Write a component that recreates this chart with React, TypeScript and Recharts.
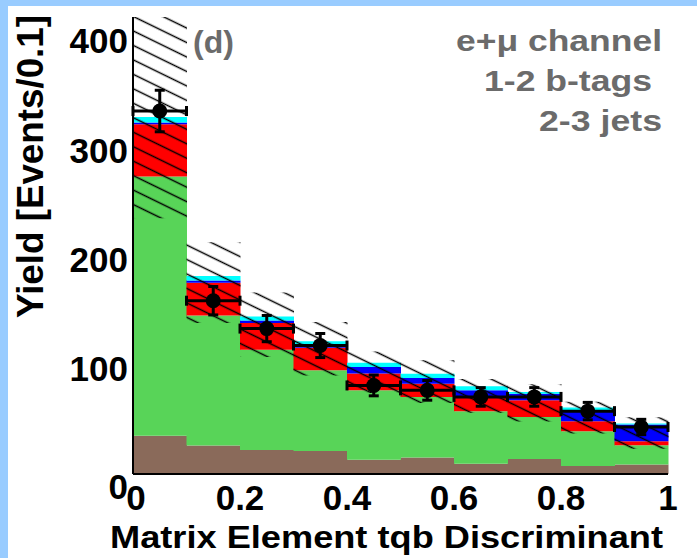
import { ComposedChart, Bar, XAxis, YAxis, Scatter, ErrorBar, Label } from 'recharts';

// bins of the tqb discriminant (width 0.1)
const bins = ['0.05', '0.15', '0.25', '0.35', '0.45', '0.55', '0.65', '0.75', '0.85', '0.95'];
const binCenters = [0.05, 0.15, 0.25, 0.35, 0.45, 0.55, 0.65, 0.75, 0.85, 0.95];
const binHalfWidth = 0.05;

// stacked predictions, bottom to top
const multijet = [35, 26, 22, 21, 13, 15, 9.4, 13.7, 7.3, 8.8];
const wjets = [237, 119, 91.6, 74, 63.5, 55.5, 48, 38.5, 31.9, 17.6];
const ttbar = [48, 30, 24.4, 20.4, 15.5, 12, 13.6, 15.2, 9.1, 3.6];
const tqb = [1.5, 2, 2.3, 2, 5.8, 5.2, 5.5, 6.1, 10, 15.2];
const tb = [5, 4, 3.7, 4, 4, 3.9, 3.7, 1.5, 2.5, 1];

// hatched uncertainty band on the total
const bandLow = [234, 138, 107, 90, 74, 65, 56, 48, 37, 23];
const bandHigh = [418, 212, 166, 139, 112, 104, 87, 82, 66, 52];

// observed data
const dataYield = [332, 158.5, 133, 117.5, 81, 76.5, 70.5, 70.5, 57.5, 43];
const dataErr = [19, 13, 12, 11, 9.5, 9, 8.5, 8.5, 8, 7];

const yTicks = [0, 50, 100, 150, 200, 250, 300, 350, 400];
const xTicks = [0, 0.05, 0.1, 0.15, 0.2, 0.25, 0.3, 0.35, 0.4, 0.45, 0.5, 0.55, 0.6, 0.65, 0.7, 0.75, 0.8, 0.85, 0.9, 0.95, 1];
const yMax = 418;

const rows = bins.map((bin, i) => ({
  bin,
  multijet: multijet[i],
  wjets: wjets[i],
  ttbar: ttbar[i],
  tqb: tqb[i],
  tb: tb[i],
  band: [bandLow[i], bandHigh[i]],
}));

const points = binCenters.map((x, i) => ({ x, y: dataYield[i], ey: dataErr[i], ex: binHalfWidth }));

const isMajorY = (v: number) => v % 100 === 0;
const isMajorX = (v: number) => Math.abs(v * 5 - Math.round(v * 5)) < 1e-6;

const FONT = '"Liberation Sans", Arial, Helvetica, sans-serif';
const GREY = '#6b6b6b';
const W = 689;
const H = 552;
const MARGIN = { top: 11, right: 29, bottom: 0, left: 0 };

const YTickLabel = (props: any) => {
  const { x, y, payload } = props;
  const v = payload.value;
  if (!isMajorY(v)) return <g />;
  return (
    <text x={x - 5} y={y + (v === 0 ? 12 : 4)} textAnchor="end" dominantBaseline="central"
      fontFamily={FONT} fontWeight="bold" fontSize={35} fill="#000">
      {v}
    </text>
  );
};

const XTickLabel = (props: any) => {
  const { x, y, payload } = props;
  const v = payload.value;
  if (!isMajorX(v)) return <g />;
  return (
    <text x={x + (v === 0 ? 3 : 0)} y={y + 36} textAnchor="middle"
      fontFamily={FONT} fontWeight="bold" fontSize={35} fill="#000">
      {String(v)}
    </text>
  );
};

const DataDot = (props: any) => <circle cx={props.cx} cy={props.cy} r={7.5} fill="#000" />;

export default function App() {
  return (
    <div style={{ position: 'absolute', left: 0, top: 0, width: 697, height: 558, background: '#99ccff' }}>
      <div style={{ position: 'absolute', left: 8, top: 6, width: W, height: H, background: '#fff' }}>
        <div style={{ position: 'absolute', left: 0, top: 0 }}>
          <ComposedChart width={W} height={H} data={rows} margin={MARGIN} barCategoryGap={0} barGap={0}>
            <defs>
              <pattern id="hatch" patternUnits="userSpaceOnUse" width={13} height={13} patternTransform="rotate(26)">
                <line x1={0} y1={6.5} x2={13} y2={6.5} stroke="#000" strokeWidth={1.5} />
              </pattern>
            </defs>

            <Bar xAxisId="cat" yAxisId="y" dataKey="multijet" stackId="mc" fill="#8a6a5a" isAnimationActive={false} />
            <Bar xAxisId="cat" yAxisId="y" dataKey="wjets" stackId="mc" fill="#58d458" isAnimationActive={false} />
            <Bar xAxisId="cat" yAxisId="y" dataKey="ttbar" stackId="mc" fill="#ff0000" isAnimationActive={false} />
            <Bar xAxisId="cat" yAxisId="y" dataKey="tqb" stackId="mc" fill="#0000ff" isAnimationActive={false} />
            <Bar xAxisId="cat" yAxisId="y" dataKey="tb" stackId="mc" fill="#00ffff" isAnimationActive={false} />
            <Bar xAxisId="cat2" yAxisId="y" dataKey="band" fill="url(#hatch)" isAnimationActive={false} />

            <Scatter xAxisId="num" yAxisId="y" data={points} dataKey="y" shape={<DataDot />} isAnimationActive={false}>
              <ErrorBar dataKey="ex" direction="x" width={5} stroke="#000" strokeWidth={3} />
              <ErrorBar dataKey="ey" direction="y" width={5} stroke="#000" strokeWidth={3} />
            </Scatter>

            <XAxis xAxisId="num" dataKey="x" type="number" domain={[0, 1]} allowDataOverflow ticks={xTicks} interval={0}
              height={84} tickSize={0} tickMargin={0} tickLine={false} tick={<XTickLabel />} axisLine={false}>
              <Label content={(p: any) => (
                <text x={p.viewBox.x + p.viewBox.width - 5} y={p.viewBox.y + 74} textAnchor="end"
                  fontFamily={FONT} fontWeight="bold" fontSize={32} textLength={553} lengthAdjust="spacingAndGlyphs" fill="#000">
                  Matrix Element tqb Discriminant
                </text>
              )} />
            </XAxis>
            <XAxis xAxisId="cat" dataKey="bin" type="category" height={0} hide />
            <XAxis xAxisId="cat2" dataKey="bin" type="category" height={0} hide />
            <YAxis yAxisId="y" type="number" domain={[0, yMax]} allowDataOverflow ticks={yTicks} interval={0} width={125}
              tickSize={0} tickMargin={0} tickLine={false} tick={<YTickLabel />} axisLine={false}>
              <Label content={() => (
                <text x={35} y={9} transform="rotate(-90, 35, 9)" textAnchor="end"
                  fontFamily={FONT} fontWeight="bold" fontSize={36} textLength={303} lengthAdjust="spacingAndGlyphs" fill="#000">
                  Yield [Events/0.1]
                </text>
              )} />
            </YAxis>

            <text x={185} y={47} fontFamily={FONT} fontWeight="bold" fontSize={32} fill={GREY}>(d)</text>
            <text x={654} y={45} textAnchor="end" fontFamily={FONT} fontWeight="bold" fontSize={30} fill={GREY}
              textLength={206} lengthAdjust="spacingAndGlyphs">e+μ channel</text>
            <text x={644} y={85} textAnchor="end" fontFamily={FONT} fontWeight="bold" fontSize={30} fill={GREY}
              textLength={168} lengthAdjust="spacingAndGlyphs">1-2 b-tags</text>
            <text x={654} y={125} textAnchor="end" fontFamily={FONT} fontWeight="bold" fontSize={30} fill={GREY}
              textLength={123} lengthAdjust="spacingAndGlyphs">2-3 jets</text>
          </ComposedChart>
        </div>

        {/* frame on top of the histogram */}
        <div style={{ position: 'absolute', left: 0, top: 0, pointerEvents: 'none' }}>
          <ComposedChart width={W} height={H} margin={MARGIN}>
            <XAxis xAxisId="num" type="number" domain={[0, 1]} allowDataOverflow height={84} tick={false} tickLine={false}
              axisLine={{ stroke: '#000', strokeWidth: 2 }} />
            <XAxis xAxisId="top" orientation="top" type="number" domain={[0, 1]} allowDataOverflow height={0} tick={false} tickLine={false}
              axisLine={{ stroke: '#000', strokeWidth: 1.5 }} />
            <YAxis yAxisId="y" type="number" domain={[0, yMax]} allowDataOverflow width={125} tick={false} tickLine={false}
              axisLine={{ stroke: '#000', strokeWidth: 2 }} />
            <YAxis yAxisId="right" orientation="right" type="number" domain={[0, yMax]} allowDataOverflow width={0} tick={false} tickLine={false}
              axisLine={{ stroke: '#444', strokeWidth: 2 }} />
          </ComposedChart>
        </div>
      </div>
    </div>
  );
}
